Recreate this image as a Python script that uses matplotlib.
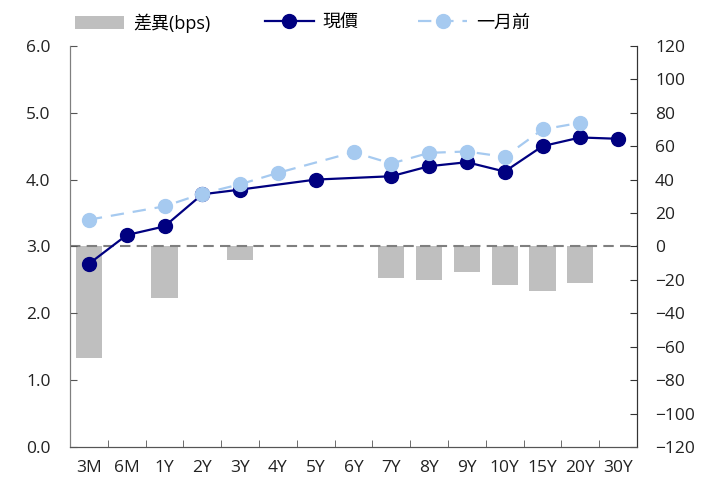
import matplotlib
matplotlib.use('Agg')
import matplotlib.pyplot as plt
import numpy as np

plt.rcParams['font.family'] = ['Open Sans', 'Noto Sans CJK TC', 'DejaVu Sans']

# tenors and yields (%), NaN = no quote
tenors = ['3M', '6M', '1Y', '2Y', '3Y', '4Y', '5Y', '6Y', '7Y', '8Y', '9Y', '10Y', '15Y', '20Y', '30Y']
current = [2.74, 3.17, 3.30, 3.78, 3.85, np.nan, 4.00, np.nan, 4.05, 4.20, 4.26, 4.12, 4.50, 4.63, 4.61]
month_ago = [3.40, np.nan, 3.60, 3.79, 3.93, 4.10, np.nan, 4.41, 4.24, 4.40, 4.42, 4.34, 4.75, 4.85, np.nan]
diff_bps = [-67, np.nan, -31, np.nan, -8, np.nan, np.nan, np.nan, -19, -20, -15, -23, -26.5, -22, np.nan]

dark = '#000080'
light = '#A6CAF0'
bar_color = '#BFBFBF'

fig = plt.figure(figsize=(7.1, 4.88), dpi=100)
ax = fig.add_axes([0.0986, 0.084, 0.7986, 0.822])
ax2 = ax.twinx()

x = np.arange(len(tenors))

# bars on right axis, lines on left axis drawn above
bars = ax2.bar(x, diff_bps, width=0.69, color=bar_color, label='差異(bps)')
ax2.axhline(0, color='#7F7F7F', lw=1.5, ls=(0, (5, 3)), zorder=1)
ax.set_zorder(ax2.get_zorder() + 1)
ax.patch.set_visible(False)

cur = np.array(current)
ok = ~np.isnan(cur)
l_cur, = ax.plot(x[ok], cur[ok], color=dark, lw=1.6, marker='o', ms=10, label='現價', zorder=3)
ago = np.array(month_ago)
ok = ~np.isnan(ago)
l_ago, = ax.plot(x[ok], ago[ok], color=light, lw=1.6, ls=(0, (6, 4)), marker='o', ms=10,
                 label='一月前', zorder=4)

ax.set_xlim(-0.5, len(tenors) - 0.5)
ax.set_ylim(0, 6)
ax.set_yticks(np.arange(0, 6.1, 1.0))
ax.set_yticklabels(['{:.1f}'.format(v) for v in np.arange(0, 6.1, 1.0)])
ax2.set_ylim(-120, 120)
ax2.set_yticks(np.arange(-120, 121, 20))

ax.set_xticks(x)
ax.set_xticklabels(tenors)
ax.set_xticks(np.arange(-0.5, len(tenors), 1.0), minor=True)
ax.tick_params(axis='x', which='major', length=0, pad=9, labelsize=12.5, colors='#222222')
ax.tick_params(axis='x', which='minor', direction='in', length=5, color='#555555')
ax.tick_params(axis='y', direction='in', length=5, labelsize=12.5, pad=14, color='#555555', labelcolor='#222222')
ax2.tick_params(axis='y', direction='in', length=5, labelsize=12.5, pad=13, color='#333333', labelcolor='#222222')

for a in (ax, ax2):
    a.spines['top'].set_visible(False)
    a.spines['left'].set_color('#7F7F7F')
    a.spines['bottom'].set_color('#555555')
    a.spines['right'].set_color('#333333')

# one legend per entry, spread across the top
for h, lab, xpos in [(bars, '差異(bps)', 0.106), (l_cur, '現價', 0.373), (l_ago, '一月前', 0.589)]:
    leg = fig.legend([h], [lab], loc='upper left', bbox_to_anchor=(xpos, 0.972),
                     frameon=False, fontsize=13, handlelength=2.7, handletextpad=0.5,
                     borderpad=0, borderaxespad=0)

fig.savefig('out.png', dpi=100)
